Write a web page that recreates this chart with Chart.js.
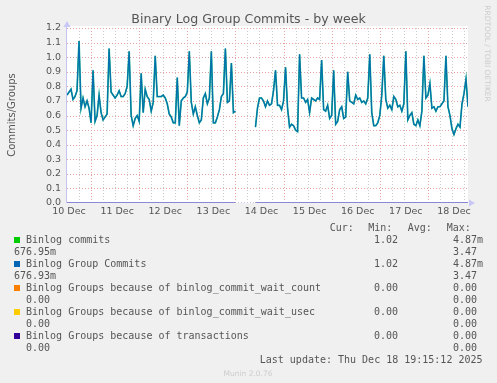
<!DOCTYPE html>
<html>
<head>
<meta charset="utf-8">
<script src="https://cdn.jsdelivr.net/npm/chart.js@4.4.1/dist/chart.umd.min.js"></script>
<style>
  html, body { margin: 0; padding: 0; background: #f0f0f0; }
  #wrap { width: 497px; height: 383px; position: relative; }
</style>
</head>
<body>
<div id="wrap"><canvas id="chart"></canvas></div>
<script>
const FONT = 'DejaVu Sans, sans-serif';
const MONO = 'DejaVu Sans Mono, monospace';
const TEXT_COLOR = '#555555';
const GRID_RED = '#e8a4a4';
const GRID_GRAY = '#cbcbcb';
const AXIS_COLOR = '#c4c4f0';

// x axis: hours since the left edge of the graph (10 Dec)
const hours = [];
for (let h = 0; h <= 200; h++) hours.push(h);

const dayTicks = [1, 25, 49, 73, 97, 121, 145, 169, 193];
const dayLabels = ['10 Dec', '11 Dec', '12 Dec', '13 Dec', '14 Dec', '15 Dec', '16 Dec', '17 Dec', '18 Dec'];
const yTicks = [0.0, 0.1, 0.2, 0.3, 0.4, 0.5, 0.6, 0.7, 0.8, 0.9, 1.0, 1.1, 1.2];

// Binlog commits per hour slot (gap = no data on 13/14 Dec)
const binlogCommits = [
  0.74, 0.76, 0.78, 0.71, 0.73, 0.77, 1.11, 0.65, 0.72, 0.66,
  0.70, 0.65, 0.55, 0.91, 0.56, 0.60, 0.74, 0.62, 0.57, 0.59,
  0.61, 1.06, 0.76, 0.74, 0.72, 0.74, 0.77, 0.73, 0.73, 0.75,
  0.80, 1.04, 0.60, 0.53, 0.58, 0.60, 0.56, 0.89, 0.62, 0.78,
  0.73, 0.71, 0.63, 0.69, 1.01, 0.73, 0.73, 0.73, 0.74, 0.72,
  0.68, 0.61, 0.59, 0.55, 0.55, 0.86, 0.53, 0.70, 0.72, 0.73,
  0.76, 1.04, 0.69, 0.61, 0.66, 0.60, 0.55, 0.57, 0.72, 0.75,
  0.68, 0.72, 1.04, 0.55, 0.55, 0.59, 0.64, 0.73, 0.75, 1.06,
  0.69, 0.70, 0.96, 0.62, 0.63, null, null, null, null, null,
  null, null, null, null, 0.52, 0.65, 0.72, 0.72, 0.70, 0.66,
  0.70, 0.67, 0.68, 0.77, 0.91, 0.67, 0.67, 0.64, 0.70, 0.93,
  0.65, 0.52, 0.54, 0.53, 0.50, 0.49, 1.02, 0.72, 0.72, 0.69,
  0.71, 0.62, 0.72, 0.71, 0.70, 0.72, 0.71, 0.98, 0.64, 0.63,
  0.67, 0.58, 0.60, 0.91, 0.54, 0.56, 0.64, 0.66, 0.58, 0.59,
  0.90, 0.70, 0.69, 0.68, 0.74, 0.71, 0.72, 0.69, 0.70, 0.68,
  0.72, 1.02, 0.62, 0.53, 0.53, 0.55, 0.60, 0.74, 1.01, 0.71,
  0.65, 0.67, 0.64, 0.73, 0.71, 0.66, 0.67, 0.63, 0.68, 1.04,
  0.57, 0.60, 0.62, 0.54, 0.53, 0.57, 0.53, 0.63, 1.01, 0.72,
  0.74, 0.82, 0.65, 0.66, 0.63, 0.66, 0.66, 0.68, 0.70, 1.01,
  0.66, 0.60, 0.51, 0.47, 0.51, 0.54, 0.52, 0.68, 0.75, 0.85,
  0.66
];
// group commits overlap the commits line everywhere in the picture
const binlogGroupCommits = binlogCommits;

// the three "because of" series sit on zero
const zeroHours = [0, 84, 85, 94, 200];
const waitCount = [0, 0, null, 0, 0];
const waitUsec = [0, 0, null, 0, 0];
const transactions = [0, 0, null, 0, 0];

const seriesNames = [
  'Binlog commits',
  'Binlog Group Commits',
  'Binlog Groups because of binlog_commit_wait_count',
  'Binlog Groups because of binlog_commit_wait_usec',
  'Binlog Groups because of transactions',
];
const seriesColors = ['#00cc00', '#0066b3', '#ff8000', '#ffcc00', '#330099'];
const curValues = ['  1.02', '  1.02', '  0.00', '  0.00', '  0.00'];
const minValues = ['  4.87m', '  4.87m', '  0.00', '  0.00', '  0.00'];
const avgValues = ['676.95m', '676.93m', '  0.00', '  0.00', '  0.00'];
const maxValues = ['  3.47', '  3.47', '  0.00', '  0.00', '  0.00'];

const xy = (xs, ys) => xs.map((x, i) => ({ x, y: ys[i] }));

function hline(ctx, x1, x2, y) {
  ctx.beginPath(); ctx.moveTo(x1, y); ctx.lineTo(x2, y); ctx.stroke();
}
function vline(ctx, x, y1, y2) {
  ctx.beginPath(); ctx.moveTo(x, y1); ctx.lineTo(x, y2); ctx.stroke();
}

const muninPlugin = {
  id: 'munin',
  beforeDraw(chart) {
    const { ctx, chartArea: a, width, height } = chart;
    const xs = chart.scales.x;
    const ys = chart.scales.y;
    ctx.save();
    ctx.fillStyle = '#f0f0f0';
    ctx.fillRect(0, 0, width, height);
    ctx.fillStyle = '#ffffff';
    ctx.fillRect(a.left, a.top - 2, a.right - a.left, a.bottom - a.top + 2);

    ctx.lineWidth = 1;
    ctx.setLineDash([1, 2]);
    for (let h = 6; h <= 200; h += 6) {
      const px = Math.round(xs.getPixelForValue(h)) + 0.5;
      ctx.strokeStyle = h % 24 === 12 ? GRID_RED : GRID_GRAY;
      vline(ctx, px, a.top, a.bottom);
    }
    yTicks.forEach((v) => {
      if (v === 0) return;
      const py = Math.round(ys.getPixelForValue(v)) + 0.5;
      ctx.strokeStyle = GRID_RED;
      hline(ctx, a.left, a.right, py);
    });
    // zero line / x axis
    ctx.strokeStyle = AXIS_COLOR;
    hline(ctx, a.left, a.right + 2, a.bottom - 0.5);
    ctx.setLineDash([]);
    // y axis
    vline(ctx, a.left - 0.5, a.bottom, a.top - 3);
    ctx.fillStyle = '#c8c8f8';
    ctx.beginPath();
    ctx.moveTo(a.right + 1, a.bottom - 3.5);
    ctx.lineTo(a.right + 7, a.bottom);
    ctx.lineTo(a.right + 1, a.bottom + 3.5);
    ctx.closePath();
    ctx.fill();
    ctx.beginPath();
    ctx.moveTo(a.left - 3.5, a.top - 1);
    ctx.lineTo(a.left, a.top - 7);
    ctx.lineTo(a.left + 3.5, a.top - 1);
    ctx.closePath();
    ctx.fill();
    ctx.restore();
  },
  afterDraw(chart) {
    const { ctx } = chart;
    ctx.save();
    ctx.fillStyle = TEXT_COLOR;
    ctx.textBaseline = 'alphabetic';

    ctx.font = '12.6px ' + FONT;
    ctx.textAlign = 'center';
    ctx.fillText('Binary Log Group Commits - by week', 248.5, 23);

    ctx.save();
    ctx.translate(15, 115);
    ctx.rotate(-Math.PI / 2);
    ctx.font = '10px ' + FONT;
    ctx.fillText('Commits/Groups', 0, 0);
    ctx.restore();

    ctx.save();
    ctx.translate(485, 53.5);
    ctx.rotate(Math.PI / 2);
    ctx.font = '7.5px ' + FONT;
    ctx.fillStyle = '#cccccc';
    ctx.fillText('RRDTOOL / TOBI OETIKER', 0, 0);
    ctx.restore();

    ctx.font = '7.5px ' + FONT;
    ctx.fillStyle = '#cccccc';
    ctx.fillText('Munin 2.0.76', 248, 375.5);

    ctx.font = '10px ' + MONO;
    ctx.fillStyle = TEXT_COLOR;
    ctx.textAlign = 'left';
    ctx.fillText('Cur:', 329.7, 230.5);
    ctx.fillText('Min:', 368.3, 230.5);
    ctx.fillText('Avg:', 407.7, 230.5);
    ctx.fillText('Max:', 446.7, 230.5);

    seriesNames.forEach((name, i) => {
      const y1 = 242.5 + 24 * i;
      const y2 = y1 + 12;
      ctx.fillStyle = seriesColors[i];
      ctx.fillRect(14, y1 - 5.5, 6, 6);
      ctx.fillStyle = TEXT_COLOR;
      ctx.fillText(name, 26, y1);
      ctx.fillText(curValues[i], 362, y1);
      ctx.fillText(minValues[i], 441, y1);
      ctx.fillText(avgValues[i], 14, y2);
      ctx.fillText(maxValues[i], 441, y2);
    });

    ctx.textAlign = 'right';
    ctx.fillText('Last update: Thu Dec 18 19:15:12 2025', 482.5, 362.5);
    ctx.restore();
  },
};

new Chart(document.getElementById('chart'), {
  type: 'line',
  data: {
    labels: hours,
    datasets: [
      // drawn on the zero line; blended lavender as in the picture
      { label: seriesNames[4], data: xy(zeroHours, transactions), borderColor: '#8a86d8', borderWidth: 2, order: 1 },
      { label: seriesNames[3], data: xy(zeroHours, waitUsec), borderColor: seriesColors[3], order: 2 },
      { label: seriesNames[2], data: xy(zeroHours, waitCount), borderColor: seriesColors[2], order: 3 },
      { label: seriesNames[1], data: binlogGroupCommits, borderColor: 'rgba(0, 102, 179, 0.9)', borderWidth: 1.1, order: 4 },
      { label: seriesNames[0], data: binlogCommits, borderColor: 'rgba(20, 175, 140, 1)', borderWidth: 1.7, order: 5 },
    ],
  },
  options: {
    responsive: true,
    maintainAspectRatio: false,
    animation: false,
    layout: { padding: { top: 28, right: 29, bottom: 160, left: 0 } },
    plugins: { legend: { display: false }, tooltip: { enabled: false } },
    elements: {
      point: { radius: 0, hoverRadius: 0 },
      line: { borderWidth: 1, tension: 0, fill: false },
    },
    spanGaps: false,
    scales: {
      x: {
        type: 'linear',
        min: 0,
        max: 200,
        grid: { display: false, drawTicks: false },
        border: { display: false },
        afterFit(scale) { scale.height = 20; },
        afterBuildTicks(scale) { scale.ticks = dayTicks.map((v) => ({ value: v })); },
        ticks: {
          autoSkip: false,
          maxRotation: 0,
          padding: 3,
          color: TEXT_COLOR,
          font: { family: FONT, size: 9.5 },
          callback: (v, i) => dayLabels[i],
        },
      },
      y: {
        min: 0,
        max: 1.2,
        grid: { display: false, drawTicks: false },
        border: { display: false },
        afterFit(scale) { scale.width = 67; },
        afterBuildTicks(scale) { scale.ticks = yTicks.map((v) => ({ value: v })); },
        ticks: {
          padding: 6,
          color: TEXT_COLOR,
          font: { family: FONT, size: 9.5 },
          callback: (v) => Number(v).toFixed(1),
        },
      },
    },
  },
  plugins: [muninPlugin],
});
</script>
</body>
</html>
